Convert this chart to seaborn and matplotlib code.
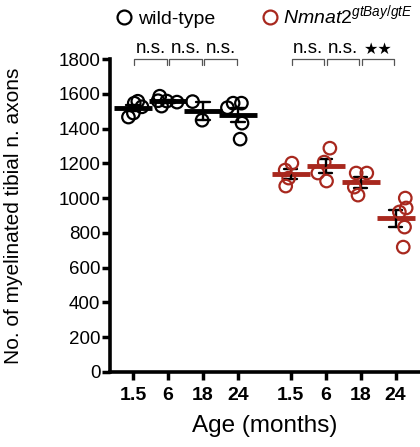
import numpy as np
import pandas as pd
import matplotlib
matplotlib.use('Agg')
import matplotlib.pyplot as plt
import seaborn as sns
from matplotlib.lines import Line2D

# values (axon counts per animal)
ages = ['1.5', '6', '18', '24']
genotypes = ['wild-type', 'Nmnat2']
wt_15 = [1546, 1557, 1466, 1489, 1525]
wt_6 = [1552, 1586, 1529, 1560, 1558]
wt_18 = [1555, 1448]
wt_24 = [1546, 1546, 1431, 1339, 1520]
mut_15 = [1201, 1161, 1115, 1069]
mut_6 = [1287, 1207, 1144, 1098]
mut_18 = [1144, 1144, 1063, 1017]
mut_24 = [1000, 943, 920, 833, 718]
wt_stats = ['n.s.', 'n.s.', 'n.s.']
mut_stats = ['n.s.', 'n.s.', '**']

RED = '#A8281E'
GROUP_GAP = 4.5

rows = []
for g, series in zip(genotypes, [[wt_15, wt_6, wt_18, wt_24], [mut_15, mut_6, mut_18, mut_24]]):
    offset = 0 if g == 'wild-type' else GROUP_GAP
    for i, (age, vals) in enumerate(zip(ages, series)):
        for v in vals:
            rows.append({'genotype': g, 'age': age, 'pos': i + offset, 'axons': v})
df = pd.DataFrame(rows)

sns.set_style('ticks')
plt.rcParams['font.family'] = ['Liberation Sans', 'DejaVu Sans']
plt.rcParams['mathtext.fontset'] = 'custom'
plt.rcParams['mathtext.it'] = 'Liberation Sans:italic'
plt.rcParams['mathtext.rm'] = 'Liberation Sans'
for k in ['text.color', 'axes.labelcolor', 'xtick.color', 'ytick.color', 'axes.edgecolor']:
    plt.rcParams[k] = 'black'

fig = plt.figure(figsize=(4.2, 4.47), dpi=100)
ax = fig.add_axes([0.262, 0.168, 0.738, 0.700])

palette = {'wild-type': 'black', 'Nmnat2': RED}
np.random.seed(3)
sns.stripplot(data=df, x='pos', y='axons', hue='genotype', palette=palette,
              native_scale=True, jitter=0.32, size=9, linewidth=0, legend=False, ax=ax)
for coll in ax.collections:
    fc = coll.get_facecolor()
    coll.set_facecolor('none')
    coll.set_edgecolor(fc)
    coll.set_linewidth(1.6)

# mean bars
sns.pointplot(data=df, x='pos', y='axons', hue='genotype', palette=palette,
              native_scale=True, errorbar=None, marker='_', markersize=28,
              markeredgewidth=3.5, linestyle='none', legend=False, ax=ax)
# SEM error bars
sns.pointplot(data=df, x='pos', y='axons', native_scale=True, errorbar='se',
              color='black', capsize=0.38, err_kws={'linewidth': 1.7},
              marker='', linestyle='none', ax=ax)

ax.set_ylim(0, 1800)
ax.set_xlim(-0.66, 8.2)
ax.set_yticks(range(0, 1801, 200))
ax.tick_params(axis='y', labelsize=13.5, length=6, width=2.5, pad=1)
ticks = [i for i in range(4)] + [i + GROUP_GAP for i in range(4)]
ax.set_xticks(ticks)
ax.set_xticklabels(ages + ages, fontweight='bold', fontsize=14)
ax.tick_params(axis='x', length=6, width=2.5, pad=5)
for s in ['left', 'bottom']:
    ax.spines[s].set_linewidth(2.6)
sns.despine(ax=ax)

ax.set_xlabel('Age (months)', fontsize=17.5, labelpad=8)
ax.set_ylabel('No. of myelinated tibial n. axons', fontsize=15)
ax.yaxis.set_label_coords(-0.28, 0.5)

# comparison brackets
for offset, labels in [(0, wt_stats), (GROUP_GAP, mut_stats)]:
    for i, lab in enumerate(labels):
        x0, x1 = offset + i + 0.03, offset + i + 0.97
        ax.plot([x0, x0, x1, x1], [1765, 1800, 1800, 1765], color='#555555',
                lw=0.9, clip_on=False)
        if lab == '**':
            ax.text((x0 + x1) / 2, 1812, '\u2605\u2605', ha='center', va='bottom',
                    fontsize=11.5, family=['DejaVu Sans'], clip_on=False)
        else:
            ax.text((x0 + x1) / 2, 1812, lab, ha='center', va='bottom',
                    fontsize=13.5, clip_on=False)

handles = [Line2D([], [], marker='o', ls='none', mfc='none', mec='black', mew=1.6, ms=10),
           Line2D([], [], marker='o', ls='none', mfc='none', mec=RED, mew=1.6, ms=10)]
fig.legend(handles, ['wild-type', r'$\mathit{Nmnat2}^{\mathit{gtBay/gtE}}$'],
           loc='center', bbox_to_anchor=(0.628, 0.965), ncol=2, frameon=False,
           fontsize=14, handletextpad=0.2, columnspacing=2.3, handlelength=1.0)

fig.savefig('out.png', dpi=100)
